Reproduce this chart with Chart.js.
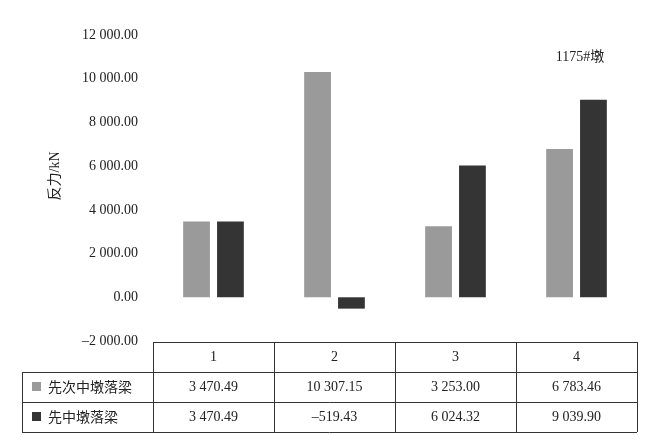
<!DOCTYPE html>
<html>
<head>
<meta charset="utf-8">
<script src="https://cdn.jsdelivr.net/npm/chart.js@4/dist/chart.umd.min.js"></script>
<style>
  html, body { margin: 0; padding: 0; background: #fff; }
  #wrap { width: 660px; height: 441px; position: relative; }
</style>
</head>
<body>
<div id="wrap"><canvas id="chart"></canvas></div>
<script>
const categories = ['1', '2', '3', '4'];
const seriesNames = ['先次中墩落梁', '先中墩落梁'];
const seriesA = [3470.49, 10307.15, 3253.00, 6783.46];
const seriesB = [3470.49, -519.43, 6024.32, 9039.90];
const colors = ['#9a9a9a', '#343434'];
const yMin = -2000, yMax = 12000, yStep = 2000;
const yTitle = '反力/kN';
const note = '1175#墩';

const serif = '"Liberation Serif", "Noto Sans CJK SC", serif';
const cjk = '"Noto Sans CJK SC", "Noto Sans", sans-serif';

// 3 470.49 / –519.43
function fmt(v) {
  const neg = v < 0;
  const parts = Math.abs(v).toFixed(2).split('.');
  const intPart = parts[0].replace(/\B(?=(\d{3})+(?!\d))/g, ' ');
  return (neg ? '\u2013' : '') + intPart + '.' + parts[1];
}

const tablePlugin = {
  id: 'dataTable',
  afterDraw(chart) {
    const ctx = chart.ctx;
    const area = chart.chartArea;
    const x = chart.scales.x;
    const colW = (area.right - area.left) / categories.length;
    const top = area.bottom + 1;
    const rowH = 30;
    const legendLeft = 22;

    ctx.save();
    ctx.strokeStyle = '#333';
    ctx.lineWidth = 1;
    ctx.beginPath();
    // header row
    ctx.moveTo(area.left, top + 0.5);
    ctx.lineTo(area.right, top + 0.5);
    for (let r = 1; r <= 3; r++) {
      const yy = Math.round(top + r * rowH) + 0.5;
      ctx.moveTo(legendLeft, yy);
      ctx.lineTo(area.right, yy);
    }
    ctx.moveTo(legendLeft + 0.5, top + rowH);
    ctx.lineTo(legendLeft + 0.5, top + 3 * rowH);
    for (let i = 0; i <= categories.length; i++) {
      const xx = Math.round(area.left + i * colW) + 0.5;
      ctx.moveTo(xx, top);
      ctx.lineTo(xx, top + 3 * rowH);
    }
    ctx.stroke();

    ctx.fillStyle = '#222';
    ctx.font = '14px ' + serif;
    ctx.textAlign = 'center';
    ctx.textBaseline = 'middle';
    categories.forEach((c, i) => {
      ctx.fillText(c, x.getPixelForValue(i), top + rowH / 2);
    });

    const rows = [seriesA, seriesB];
    rows.forEach((vals, r) => {
      const cy = top + rowH * (r + 1) + rowH / 2;
      ctx.fillStyle = colors[r];
      ctx.fillRect(legendLeft + 10, cy - 5, 9, 9);
      ctx.fillStyle = '#222';
      ctx.font = '14px ' + cjk;
      ctx.textAlign = 'left';
      ctx.fillText(seriesNames[r], legendLeft + 26, cy);
      ctx.font = '14px ' + serif;
      ctx.textAlign = 'center';
      vals.forEach((v, i) => {
        ctx.fillText(fmt(v), x.getPixelForValue(i), cy);
      });
    });

    // y axis title
    ctx.save();
    ctx.translate(55, 176);
    ctx.rotate(-Math.PI / 2);
    ctx.font = '14px ' + serif;
    ctx.fillStyle = '#222';
    ctx.textAlign = 'center';
    ctx.fillText(yTitle, 0, 0);
    ctx.restore();

    // note
    ctx.font = '14px ' + serif;
    ctx.textAlign = 'center';
    ctx.fillStyle = '#222';
    ctx.fillText(note, 580, 57);
    ctx.restore();
  }
};

new Chart(document.getElementById('chart'), {
  type: 'bar',
  data: {
    labels: categories,
    datasets: [
      { label: seriesNames[0], data: seriesA, backgroundColor: colors[0] },
      { label: seriesNames[1], data: seriesB, backgroundColor: colors[1] }
    ]
  },
  options: {
    responsive: true,
    maintainAspectRatio: false,
    animation: false,
    categoryPercentage: 0.56,
    barPercentage: 0.79,
    layout: { padding: { top: 35, right: 23, bottom: 100, left: 0 } },
    plugins: {
      legend: { display: false },
      tooltip: { enabled: false }
    },
    scales: {
      x: { display: false },
      y: {
        min: yMin,
        max: yMax,
        border: { display: false },
        grid: { display: false, drawTicks: false },
        afterFit(scale) { scale.width = 153; },
        ticks: {
          stepSize: yStep,
          padding: 15,
          color: '#222',
          font: { family: serif, size: 14 },
          callback: v => fmt(v)
        }
      }
    }
  },
  plugins: [tablePlugin]
});
</script>
</body>
</html>
